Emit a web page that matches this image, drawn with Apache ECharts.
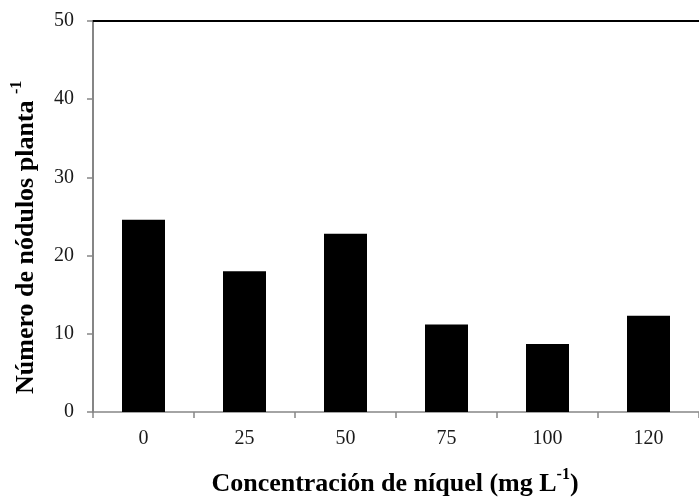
<!DOCTYPE html>
<html>
<head>
<meta charset="utf-8">
<script src="https://cdn.jsdelivr.net/npm/echarts@6/dist/echarts.min.js"></script>
<style>html,body{margin:0;padding:0;background:#fff}#c{width:699px;height:498px}</style>
</head>
<body>
<div id="c"></div>
<script>
const categories = ['0', '25', '50', '75', '100', '120'];
const nodulos = [24.6, 18.0, 22.8, 11.2, 8.7, 12.3];
const yTicks = {min: 0, max: 50, interval: 10};

const chart = echarts.init(document.getElementById('c'), null, {renderer: 'canvas'});
const serif = 'Liberation Serif';
const titleRich = function (size, supSize, lh) {
  return {
    a: {fontFamily: serif, fontWeight: 'bold', fontSize: size, fill: '#000', lineHeight: lh, verticalAlign: 'bottom'},
    s: {fontFamily: serif, fontWeight: 'bold', fontSize: supSize, fill: '#000', lineHeight: lh, verticalAlign: 'top'}
  };
};
chart.setOption({
  animation: false,
  backgroundColor: '#fff',
  grid: {left: 93, top: 21, width: 616, bottom: 86},
  xAxis: [{
    type: 'category',
    data: categories,
    position: 'bottom',
    axisLine: {lineStyle: {color: '#868686', width: 1.5}},
    axisTick: {show: true, length: 6, lineStyle: {color: '#868686', width: 1.5}},
    axisLabel: {fontFamily: serif, fontSize: 20, color: '#1a1a1a', margin: 17}
  }, {
    type: 'category',
    data: categories,
    position: 'top',
    axisLine: {lineStyle: {color: '#000', width: 2}},
    axisTick: {show: false},
    axisLabel: {show: false}
  }],
  yAxis: {
    type: 'value',
    min: yTicks.min, max: yTicks.max, interval: yTicks.interval,
    axisLine: {show: true, lineStyle: {color: '#868686', width: 2}},
    axisTick: {show: true, length: 6, lineStyle: {color: '#868686', width: 1.5}},
    splitLine: {show: false},
    axisLabel: {fontFamily: serif, fontSize: 20, color: '#1a1a1a', margin: 19}
  },
  series: [{
    type: 'bar',
    data: nodulos,
    barWidth: 43,
    itemStyle: {color: '#000'}
  }],
  graphic: [{
    type: 'text',
    x: 395, y: 482,
    style: {
      text: '{a|Concentración de níquel (mg L}{s|-1}{a|)}',
      fill: '#000',
      align: 'center', verticalAlign: 'middle',
      textAlign: 'center', textVerticalAlign: 'middle',
      rich: titleRich(26, 16, 30)
    }
  }, {
    type: 'text',
    x: 24, y: 394,
    rotation: Math.PI / 2,
    style: {
      text: '{a|Número de nódulos planta }{s|-1}',
      fill: '#000',
      align: 'left', verticalAlign: 'middle',
      textAlign: 'left', textVerticalAlign: 'middle',
      rich: titleRich(26, 16, 30)
    }
  }]
});
</script>
</body>
</html>
